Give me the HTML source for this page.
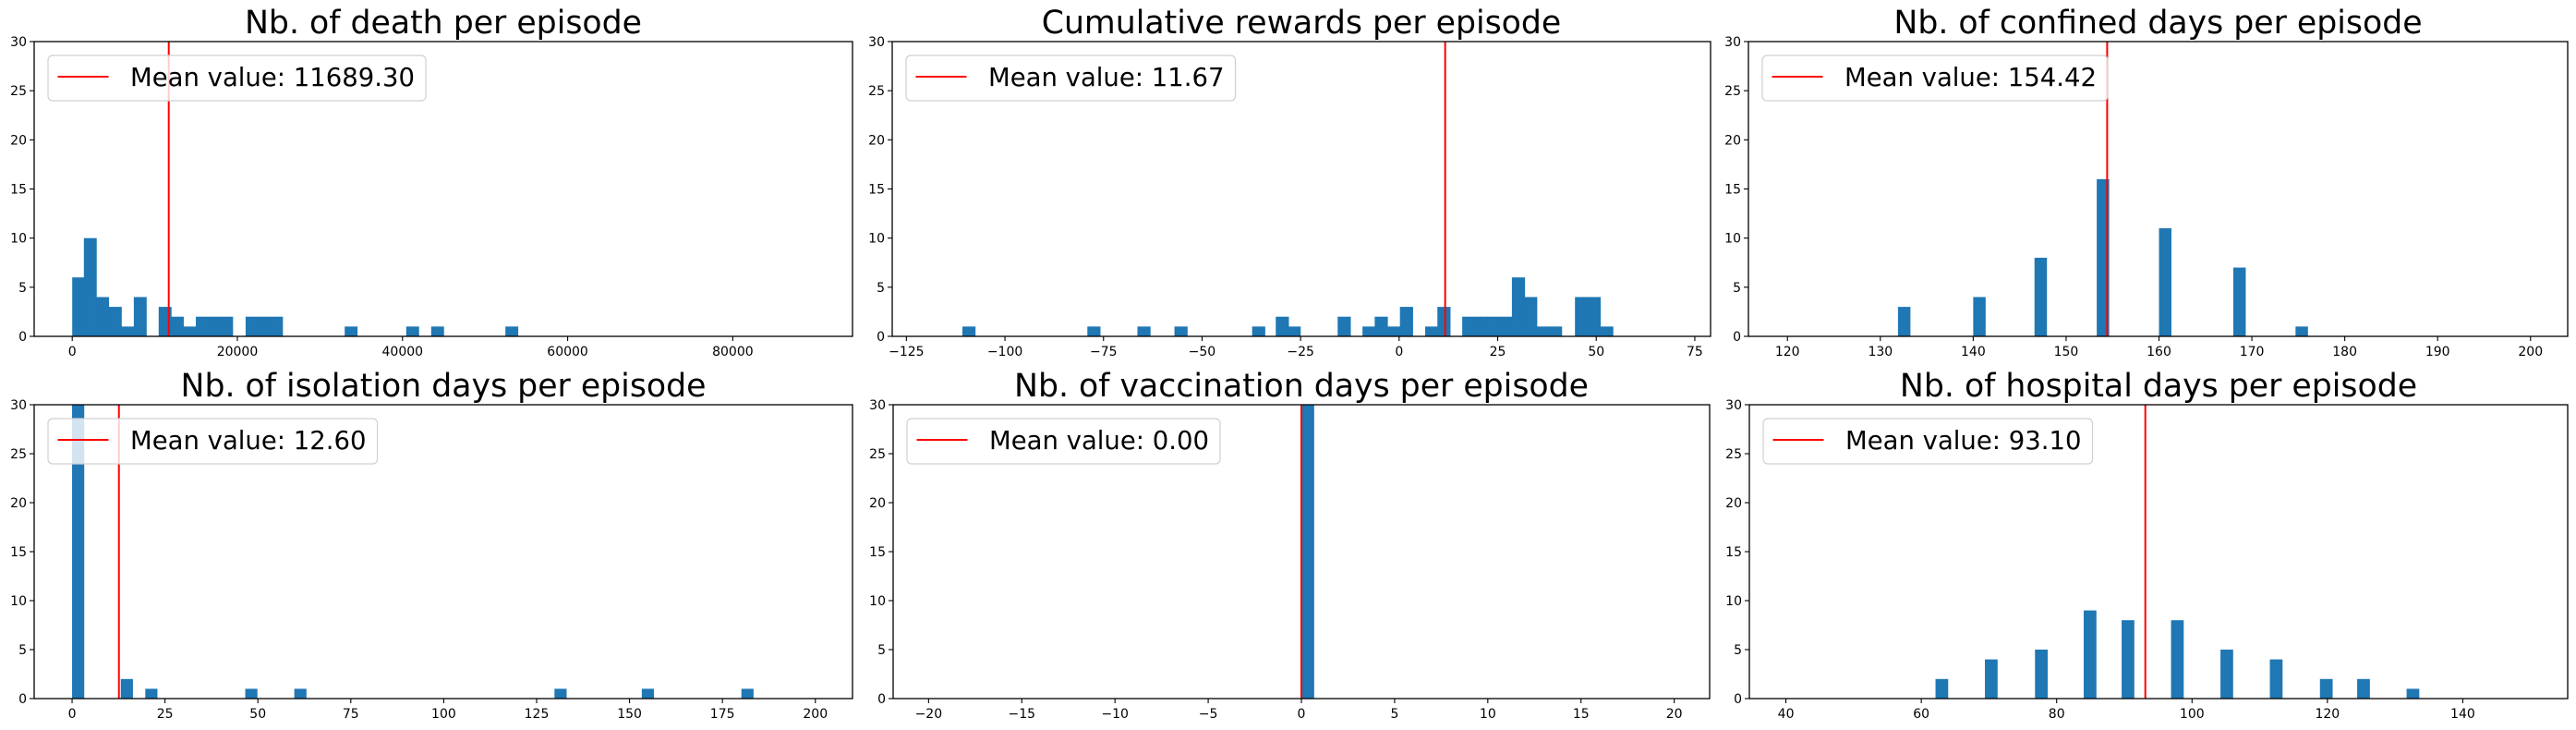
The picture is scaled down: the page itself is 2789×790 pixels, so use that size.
<!DOCTYPE html>
<html><head><meta charset="utf-8">
<style>
html,body{margin:0;padding:0;background:#fff;}
svg{display:block;font-family:"DejaVu Sans","Liberation Sans",sans-serif;}
</style></head>
<body>
<svg id="fig" width="2789" height="790" viewBox="0 0 2789 790" xmlns="http://www.w3.org/2000/svg">
<rect width="2789" height="790" fill="#fff"/>
</svg>
<script>
// ---- Data (top-level arrays) ----
const deathBinLefts = [0,1410,2900,4440,5920,7460,10470,11950,13430,14970,16440,17920,21000,22480,23960,33000,40450,43470,52460];
const deathCounts   = [6,10,4,3,1,4,3,2,1,2,2,2,2,2,2,1,1,1,1];
const deathTicks    = [0,20000,40000,60000,80000];
const deathMean     = 11689.30;

const rewardBinLefts = [-110.8,-79.1,-66.4,-57,-37.3,-31.3,-28.3,-15.6,-9.3,-6.2,-3,0.2,6.6,9.7,16,19.2,22.3,25.5,28.6,31.7,34.9,38.0,44.6,47.8,51.0];
const rewardCounts   = [1,1,1,1,1,2,1,2,1,2,1,3,1,3,2,2,2,2,6,4,1,1,4,4,1];
const rewardTicks    = [-125,-100,-75,-50,-25,0,25,50,75];
const rewardMean     = 11.67;

const confinedBinLefts = [131.9,140.0,146.6,153.3,160.0,168.0,174.7];
const confinedCounts   = [3,4,8,16,11,7,1];
const confinedTicks    = [120,130,140,150,160,170,180,190,200];
const confinedMean     = 154.42;

const isolationBinLefts = [0,13.1,19.7,46.6,59.8,129.8,153.3,180.1];
const isolationCounts   = [42,2,1,1,1,1,1,1];
const isolationTicks    = [0,25,50,75,100,125,150,175,200];
const isolationMean     = 12.60;

const vaccinationBinLefts = [0];
const vaccinationCounts   = [50];
const vaccinationTicks    = [-20,-15,-10,-5,0,5,10,15,20];
const vaccinationMean     = 0.00;

const hospitalBinLefts = [62.1,69.4,76.8,84.0,89.6,96.9,104.2,111.5,118.9,124.4,131.7];
const hospitalCounts   = [2,4,5,9,8,8,5,4,2,2,1];
const hospitalTicks    = [40,60,80,100,120,140];
const hospitalMean     = 93.10;

const yTicks = [0,5,10,15,20,25,30];

// ---- Layout ----
const NS = "http://www.w3.org/2000/svg";
const svg = document.getElementById('fig');
function mk(tag, attrs, parent){
  const e = document.createElementNS(NS, tag);
  for (const k in attrs) e.setAttribute(k, attrs[k]);
  (parent||svg).appendChild(e);
  return e;
}
const panels = [
  {key:'death', title:'Nb. of death per episode', x0:37, x1:923, y0:45, y1:364, xmin:-4608, xmax:94500, lefts:deathBinLefts, counts:deathCounts, width:1480, ticks:deathTicks, mean:deathMean},
  {key:'reward', title:'Cumulative rewards per episode', x0:966, x1:1852, y0:45, y1:364, xmin:-128.6, xmax:79.0, lefts:rewardBinLefts, counts:rewardCounts, width:3.17, ticks:rewardTicks, mean:rewardMean},
  {key:'confined', title:'Nb. of confined days per episode', x0:1893, x1:2780, y0:45, y1:364, xmin:115.8, xmax:204.0, lefts:confinedBinLefts, counts:confinedCounts, width:1.27, ticks:confinedTicks, mean:confinedMean},
  {key:'isolation', title:'Nb. of isolation days per episode', x0:37, x1:923, y0:438, y1:756, xmin:-10.2, xmax:210, lefts:isolationBinLefts, counts:isolationCounts, width:3.1, ticks:isolationTicks, mean:isolationMean},
  {key:'vaccination', title:'Nb. of vaccination days per episode', x0:967, x1:1851, y0:438, y1:756, xmin:-21.9, xmax:21.9, lefts:vaccinationBinLefts, counts:vaccinationCounts, width:0.65, ticks:vaccinationTicks, mean:vaccinationMean},
  {key:'hospital', title:'Nb. of hospital days per episode', x0:1894, x1:2780, y0:438, y1:756, xmin:34.6, xmax:155.5, lefts:hospitalBinLefts, counts:hospitalCounts, width:1.78, ticks:hospitalTicks, mean:hospitalMean}
];

function fmt(v){ return v < 0 ? '\u2212' + Math.abs(v) : String(v); }

panels.forEach((p, pi) => {
  const g = mk('g', {});
  
  
  const sx = v => p.x0 + (v - p.xmin) / (p.xmax - p.xmin) * (p.x1 - p.x0);
  const sy = v => p.y1 - v / 30 * (p.y1 - p.y0);

  const cp = mk('clipPath', {id:'clip' + pi}, g);
  mk('rect', {x:p.x0, y:p.y0, width:p.x1 - p.x0, height:p.y1 - p.y0}, cp);
  const plot = mk('g', {'clip-path':'url(#clip' + pi + ')'}, g);

  p.lefts.forEach((l, i) => {
    const xa = sx(l), xb = sx(l + p.width);
    const yt = sy(p.counts[i]);
    const r = mk('rect', {x:xa, y:yt, width:Math.max(xb - xa, 0.5) + 0.7, height:p.y1 - yt, fill:'#1f77b4'}, plot);
    
    
  });

  const ml = mk('line', {x1:sx(p.mean), x2:sx(p.mean), y1:p.y0, y2:p.y1, stroke:'#ff0000', 'stroke-width':2}, plot);
  
  

  const fr = mk('rect', {x:p.x0, y:p.y0, width:p.x1 - p.x0, height:p.y1 - p.y0, fill:'none', stroke:'#000', 'stroke-width':1.3}, g);
  
  

  yTicks.forEach(t => {
    const y = sy(t);
    mk('line', {x1:p.x0 - 5, x2:p.x0, y1:y, y2:y, stroke:'#000', 'stroke-width':1.1}, g);
    const tx = mk('text', {x:p.x0 - 8, y:y + 5, 'font-size':14, 'text-anchor':'end', fill:'#000'}, g);
    tx.textContent = t;
    
    
  });
  p.ticks.forEach(t => {
    const x = sx(t);
    mk('line', {x1:x, x2:x, y1:p.y1, y2:p.y1 + 5, stroke:'#000', 'stroke-width':1.1}, g);
    const tx = mk('text', {x:x, y:p.y1 + 21, 'font-size':14, 'text-anchor':'middle', fill:'#000'}, g);
    tx.textContent = fmt(t);
    
    
  });

  const ti = mk('text', {x:(p.x0 + p.x1) / 2, y:p.y0 - 9, 'font-size':34.7, 'text-anchor':'middle', fill:'#000'}, g);
  ti.textContent = p.title;
  
  

  const lg = mk('g', {}, g);
  
  
  const box = mk('rect', {x:p.x0 + 15, y:p.y0 + 15, width:400, height:49, rx:5, fill:'#fff', 'fill-opacity':0.8, stroke:'#d0d0d0', 'stroke-width':1.2}, lg);
  mk('line', {x1:p.x0 + 25.5, x2:p.x0 + 80.5, y1:p.y0 + 38, y2:p.y0 + 38, stroke:'#ff0000', 'stroke-width':2}, lg);
  const lt = mk('text', {x:p.x0 + 104, y:p.y0 + 48, 'font-size':27.5, fill:'#000'}, lg);
  lt.textContent = 'Mean value: ' + p.mean.toFixed(2);
  
  
  let w = 300;
  try { w = lt.getComputedTextLength(); } catch(e) {}
  box.setAttribute('width', (104 - 15) + w + 12);
});
</script>
</body></html>
